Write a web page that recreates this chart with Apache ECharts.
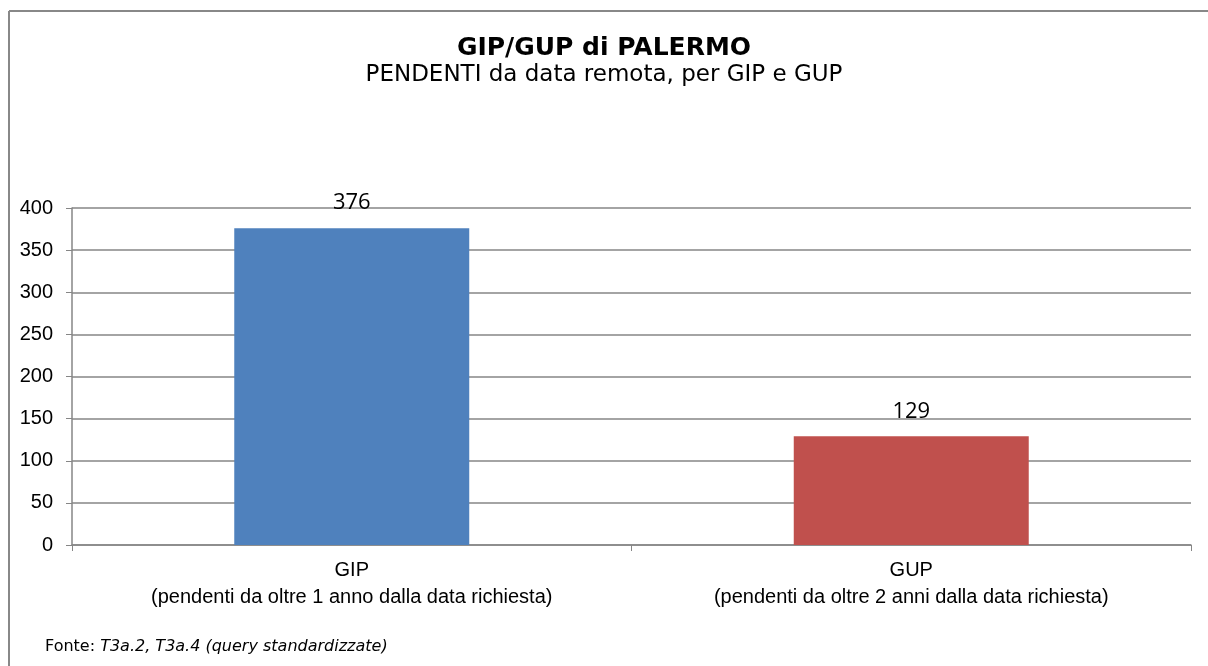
<!DOCTYPE html>
<html>
<head>
<meta charset="utf-8">
<script src="https://cdn.jsdelivr.net/npm/echarts@6/dist/echarts.min.js"></script>
<style>
  html, body { margin: 0; padding: 0; background: #fff; }
  #chart { width: 1208px; height: 666px; }
</style>
</head>
<body>
<div id="chart"></div>
<script>
// dati
const categories = ['GIP\n(pendenti da oltre 1 anno dalla data richiesta)', 'GUP\n(pendenti da oltre 2 anni dalla data richiesta)'];
const values = [376, 129];
const barColors = ['#4F81BD', '#C0504D'];
const yTicks = { min: 0, max: 400, interval: 50 };

const chart = echarts.init(document.getElementById('chart'));
chart.setOption({
  animation: false,
  title: {
    text: 'GIP/GUP di PALERMO',
    subtext: 'PENDENTI da data remota, per GIP e GUP',
    left: 'center', top: 31, itemGap: 3,
    textStyle: { fontFamily: 'DejaVu Sans', fontSize: 25, fontWeight: 'bold', color: '#000' },
    subtextStyle: { fontFamily: 'DejaVu Sans', fontSize: 23, color: '#000' }
  },
  graphic: [
    { type: 'line', shape: { x1: 9, y1: 11, x2: 1208, y2: 11 }, style: { stroke: '#888', lineWidth: 2 } },
    { type: 'line', shape: { x1: 9, y1: 11, x2: 9, y2: 666 }, style: { stroke: '#888', lineWidth: 2 } },
    {
      type: 'text', left: 45, top: 639,
      style: {
        text: '{n|Fonte: }{i|T3a.2, T3a.4 (query standardizzate)}',
        rich: {
          n: { fontFamily: 'DejaVu Sans', fontSize: 16, fill: '#000' },
          i: { fontFamily: 'DejaVu Sans', fontSize: 16, fontStyle: 'italic', fill: '#000' }
        }
      }
    }
  ],
  grid: { left: 72, right: 17, top: 208, bottom: 121 },
  xAxis: {
    type: 'category', data: categories,
    axisLine: { lineStyle: { color: '#868686', width: 1.5 } },
    axisTick: { show: true, length: 6, lineStyle: { color: '#868686' } },
    axisLabel: { fontFamily: 'Liberation Sans', fontSize: 20, color: '#000', lineHeight: 27, margin: 12 }
  },
  yAxis: {
    type: 'value', min: yTicks.min, max: yTicks.max, interval: yTicks.interval,
    axisLine: { show: true, lineStyle: { color: '#868686', width: 1.5 } },
    axisTick: { show: true, length: 6, lineStyle: { color: '#868686' } },
    splitLine: { lineStyle: { color: '#868686', width: 1.5 } },
    axisLabel: { fontFamily: 'Liberation Sans', fontSize: 20, color: '#000', margin: 19 }
  },
  series: [{
    type: 'bar',
    data: values.map((v, i) => ({ value: v, itemStyle: { color: barColors[i] } })),
    barWidth: '42%',
    label: { show: true, position: 'top', distance: 14, fontFamily: 'Open Sans', fontSize: 22, color: '#000' }
  }]
});
</script>
</body>
</html>
